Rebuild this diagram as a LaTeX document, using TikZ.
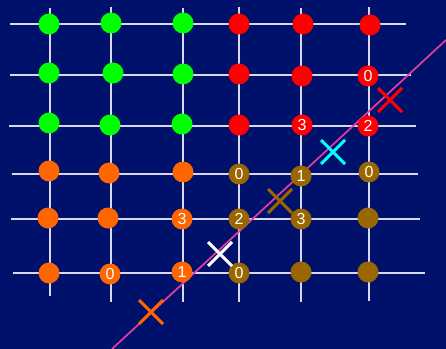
\documentclass[tikz,border=0pt]{standalone}
\usepackage{fontspec}
\setmainfont{Liberation Sans}
\definecolor{bg}{RGB}{0,17,107}
\definecolor{gridc}{RGB}{215,215,240}
\definecolor{cgreen}{RGB}{0,255,0}
\definecolor{cred}{RGB}{255,0,0}
\definecolor{corange}{RGB}{255,102,0}
\definecolor{cbrown}{RGB}{153,102,0}
\definecolor{cmag}{RGB}{225,60,160}
\definecolor{ccyan}{RGB}{0,255,255}
\begin{document}
\begin{tikzpicture}[x=0.75pt,y=-0.75pt,
  gridline/.style={gridc,line width=1.5},
  dot/.style={circle,minimum size=15.75pt,inner sep=0pt,text=white,font=\fontsize{12}{12}\selectfont},
  gdot/.style={dot,fill=cgreen},
  rdot/.style={dot,fill=cred},
  odot/.style={dot,fill=corange},
  bdot/.style={dot,fill=cbrown},
  crossarm/.style={line width=2.3pt}]
\fill[bg] (0,0) rectangle (446,349);
\useasboundingbox (0,0) rectangle (446,349);
% horizontal grid lines
\coordinate (h1a) at (10,24);  \coordinate (h1b) at (406,24);
\coordinate (h2a) at (10,75);  \coordinate (h2b) at (411,75);
\coordinate (h3a) at (9,126);  \coordinate (h3b) at (416,126);
\coordinate (h4a) at (12,174); \coordinate (h4b) at (418,174);
\coordinate (h5a) at (11,219); \coordinate (h5b) at (420,219);
\coordinate (h6a) at (13,273); \coordinate (h6b) at (425,273);
\foreach \i in {1,...,6} \draw[gridline] (h\i a) -- (h\i b);
% vertical grid lines
\coordinate (v1a) at (50,8);  \coordinate (v1b) at (50,296);
\coordinate (v2a) at (111,7); \coordinate (v2b) at (111,302);
\coordinate (v3a) at (183,8); \coordinate (v3b) at (183,302);
\coordinate (v4a) at (239,7); \coordinate (v4b) at (239,302);
\coordinate (v5a) at (301,8); \coordinate (v5b) at (301,302);
\coordinate (v6a) at (369,7); \coordinate (v6b) at (369,301);
\foreach \i in {1,...,6} \draw[gridline] (v\i a) -- (v\i b);
% diagonal line
\coordinate (da) at (112,349);
\coordinate (db) at (446,40);
\draw[cmag,line width=1.3] (da) -- (db);
% row 1
\node[gdot] (a11) at (49,24) {};
\node[gdot] (a12) at (111,23) {};
\node[gdot] (a13) at (183,23) {};
\node[rdot] (a14) at (239,24) {};
\node[rdot] (a15) at (303,24) {};
\node[rdot] (a16) at (370,25) {};
% row 2
\node[gdot] (a21) at (49,73) {};
\node[gdot] (a22) at (113,73) {};
\node[gdot] (a23) at (183,74) {};
\node[rdot] (a24) at (239,74) {};
\node[rdot] (a25) at (302,76) {};
\node[rdot] (a26) at (368,76) {0};
% row 3
\node[gdot] (a31) at (49,123) {};
\node[gdot] (a32) at (110,125) {};
\node[gdot] (a33) at (182,124) {};
\node[rdot] (a34) at (239,125) {};
\node[rdot] (a35) at (302,125) {3};
\node[rdot] (a36) at (368,126) {2};
% row 4
\node[odot] (a41) at (49,171) {};
\node[odot] (a42) at (109,173) {};
\node[odot] (a43) at (183,172) {};
\node[bdot] (a44) at (239,174) {0};
\node[bdot] (a45) at (301,176) {1};
\node[bdot] (a46) at (369,172) {0};
% row 5
\node[odot] (a51) at (48,218) {};
\node[odot] (a52) at (108,218) {};
\node[odot] (a53) at (182,219) {3};
\node[bdot] (a54) at (239,219) {2};
\node[bdot] (a55) at (301,219) {3};
\node[bdot] (a56) at (368,218) {};
% row 6
\node[odot] (a61) at (49,273) {};
\node[odot] (a62) at (110,274) {0};
\node[odot] (a63) at (182,272) {1};
\node[bdot] (a64) at (239,273) {0};
\node[bdot] (a65) at (301,272) {};
\node[bdot] (a66) at (368,272) {};
% crosses
\foreach \n/\x/\y/\c in {xr/390/100/cred, xc/333/152/ccyan, xb/280/201/cbrown, xw/220/254/white, xo/151/312/corange}{
  \coordinate (\n) at (\x,\y);
  \draw[crossarm,\c] ([shift={(-12,-12)}]\n) -- ([shift={(12,12)}]\n);
  \draw[crossarm,\c] ([shift={(12,-12)}]\n) -- ([shift={(-12,12)}]\n);
}
\end{tikzpicture}
\end{document}
